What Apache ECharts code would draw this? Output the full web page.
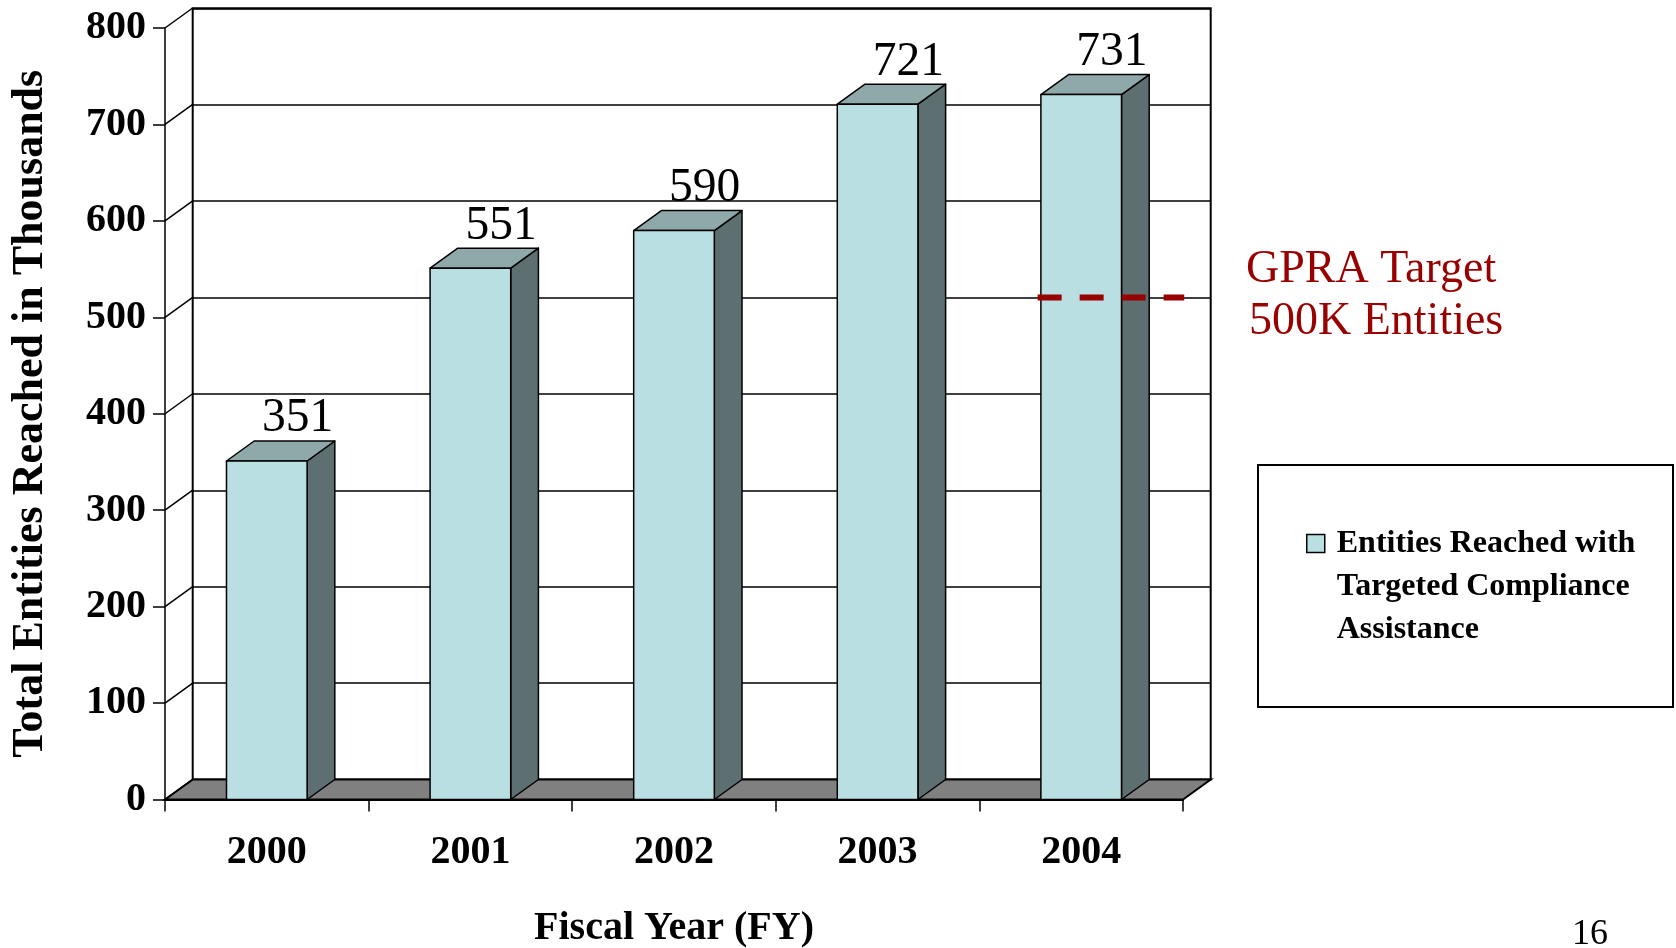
<!DOCTYPE html>
<html>
<head>
<meta charset="utf-8">
<script src="https://cdn.jsdelivr.net/npm/echarts@6/dist/echarts.min.js"></script>
<style>
html,body{margin:0;padding:0;background:#fff;}
#chart{width:1676px;height:948px;}
</style>
</head>
<body>
<div id="chart"></div>
<script>
// ---- data ----
const categories = ['2000', '2001', '2002', '2003', '2004'];
const values = [351, 551, 590, 721, 731];
const yTicks = [0, 100, 200, 300, 400, 500, 600, 700, 800];
const seriesName = 'Entities Reached with Targeted Compliance Assistance';
const legendLines = ['Entities Reached with', 'Targeted Compliance', 'Assistance'];
const targetValue = 500;
const targetSpan = [4.15, 4.87]; // category units on the back wall
const targetLines = ['GPRA Target', '500K Entities'];
const pageNumber = '16';

// ---- styling ----
const DX = 27.7, DY = -20;
const FONT = 'Liberation Serif';
const FRONT = '#B9DFE3', TOP = '#8FA9AB', SIDE = '#5E6F72', FLOOR = '#808080';
const RED = '#990000';

const chart = echarts.init(document.getElementById('chart'));

function frameItem(params, api) {
  const cs = params.coordSys;
  const y = api.coord([0, api.value(1)])[1];
  const children = [];
  if (params.dataIndex === 0) {
    const by = cs.y + cs.height;
    children.push({
      type: 'polygon',
      shape: { points: [[cs.x, by], [cs.x + cs.width, by], [cs.x + cs.width + DX, by + DY], [cs.x + DX, by + DY]] },
      style: { fill: FLOOR, stroke: '#000', lineWidth: 2 }
    });
  }
  children.push({
    type: 'line',
    shape: { x1: cs.x, y1: y, x2: cs.x + DX, y2: y + DY },
    style: { stroke: '#000', lineWidth: 1.5 }
  });
  return { type: 'group', children };
}

function barItem(params, api) {
  const i = api.value(0), v = api.value(1);
  const t = api.coord([i, v]);
  const b = api.coord([i, 0]);
  const w = api.size([1, 0])[0] * 0.396;
  const l = t[0] - w / 2, r = t[0] + w / 2;
  const edge = { stroke: '#000', lineWidth: 1.5, lineJoin: 'round' };
  return {
    type: 'group',
    children: [
      { type: 'polygon', shape: { points: [[r, t[1]], [r + DX, t[1] + DY], [r + DX, b[1] + DY], [r, b[1]]] },
        style: Object.assign({ fill: SIDE }, edge) },
      { type: 'polygon', shape: { points: [[l, t[1]], [l + DX, t[1] + DY], [r + DX, t[1] + DY], [r, t[1]]] },
        style: Object.assign({ fill: TOP }, edge) },
      { type: 'rect', shape: { x: l, y: t[1], width: w, height: b[1] - t[1] },
        style: Object.assign({ fill: FRONT }, edge) },
      { type: 'text', x: t[0] + DX + 3, y: t[1] + DY - 22,
        style: { text: String(v), fontFamily: FONT, fontSize: 47.5, fill: '#000', align: 'center', verticalAlign: 'middle' } }
    ]
  };
}

const option = {
  animation: false,
  backgroundColor: '#fff',
  grid: [
    { left: 165, top: 28, right: 493, bottom: 148.5, show: false, outerBoundsMode: 'none', containLabel: false },
    { left: 192.7, top: 8.3, right: 465.3, bottom: 168.5, show: true, borderColor: '#000', borderWidth: 2,
      backgroundColor: 'transparent', outerBoundsMode: 'none', containLabel: false }
  ],
  xAxis: [
    {
      gridIndex: 0, type: 'category', data: categories, boundaryGap: true,
      axisLine: { show: true, lineStyle: { color: '#000', width: 2 } },
      axisTick: { show: true, length: 12, lineStyle: { color: '#000', width: 1.5 } },
      axisLabel: { color: '#000', fontFamily: FONT, fontWeight: 'bold', fontSize: 40, margin: 33 },
      name: 'Fiscal Year (FY)', nameLocation: 'middle', nameGap: 109,
      nameTextStyle: { color: '#000', fontFamily: FONT, fontWeight: 'bold', fontSize: 40 }
    },
    { gridIndex: 1, type: 'value', min: 0, max: categories.length, show: false }
  ],
  yAxis: [
    {
      gridIndex: 0, type: 'value', min: 0, max: 800, interval: 100,
      axisLine: { show: true, lineStyle: { color: '#000', width: 1.5 } },
      axisTick: { show: true, length: 12, lineStyle: { color: '#000', width: 1.5 } },
      axisLabel: { color: '#000', fontFamily: FONT, fontWeight: 'bold', fontSize: 40, margin: 19 },
      splitLine: { show: false },
      name: 'Total Entities Reached in Thousands', nameLocation: 'middle', nameGap: 112, nameRotate: 90,
      nameTextStyle: { color: '#000', fontFamily: FONT, fontWeight: 'bold', fontSize: 44 }
    },
    {
      gridIndex: 1, type: 'value', min: 0, max: 800, interval: 100,
      axisLine: { show: false }, axisTick: { show: false }, axisLabel: { show: false },
      splitLine: { show: true, lineStyle: { color: '#000', width: 1.5 } }
    }
  ],
  legend: {
    left: 1306, top: 436, padding: 0, orient: 'vertical',
    itemWidth: 18, itemHeight: 18,
    data: [{ name: seriesName, icon: 'rect' }],
    itemStyle: { color: FRONT, borderColor: '#000', borderWidth: 1.5 },
    formatter: () => '\u00a0\n\u00a0\n' + legendLines.join('\n'),
    textStyle: { color: '#000', fontFamily: FONT, fontWeight: 'bold', fontSize: 32, lineHeight: 43, padding: [0, 0, 0, 7] },
    selectedMode: false
  },
  series: [
    {
      name: 'frame', type: 'custom', xAxisIndex: 0, yAxisIndex: 0, silent: true, z: 1,
      data: yTicks.map(v => [0, v]), renderItem: frameItem
    },
    {
      name: seriesName, type: 'custom', xAxisIndex: 0, yAxisIndex: 0, z: 3,
      itemStyle: { color: FRONT, borderColor: '#000', borderWidth: 1.5 },
      encode: { x: 0, y: 1 },
      data: values.map((v, i) => [i, v]), renderItem: barItem
    },
    {
      name: 'GPRA Target', type: 'line', xAxisIndex: 1, yAxisIndex: 1, z: 6, silent: true,
      symbol: 'none',
      lineStyle: { color: RED, width: 6, type: [24, 18], cap: 'butt' },
      data: [[targetSpan[0], targetValue], [targetSpan[1], targetValue]]
    }
  ],
  graphic: [
    { type: 'rect', shape: { x: 1258, y: 465, width: 415, height: 242 }, style: { fill: 'none', stroke: '#000', lineWidth: 2 }, z: 0 },
    { type: 'text', x: 1246, y: 270, style: { text: targetLines[0], fontFamily: FONT, fontSize: 46, fill: RED, align: 'left', verticalAlign: 'middle' } },
    { type: 'text', x: 1249, y: 322, style: { text: targetLines[1], fontFamily: FONT, fontSize: 46, fill: RED, align: 'left', verticalAlign: 'middle' } },
    { type: 'text', x: 1590, y: 935, style: { text: pageNumber, fontFamily: FONT, fontSize: 36, fill: '#000', align: 'center', verticalAlign: 'middle' } }
  ]
};
chart.setOption(option);
</script>
</body>
</html>
